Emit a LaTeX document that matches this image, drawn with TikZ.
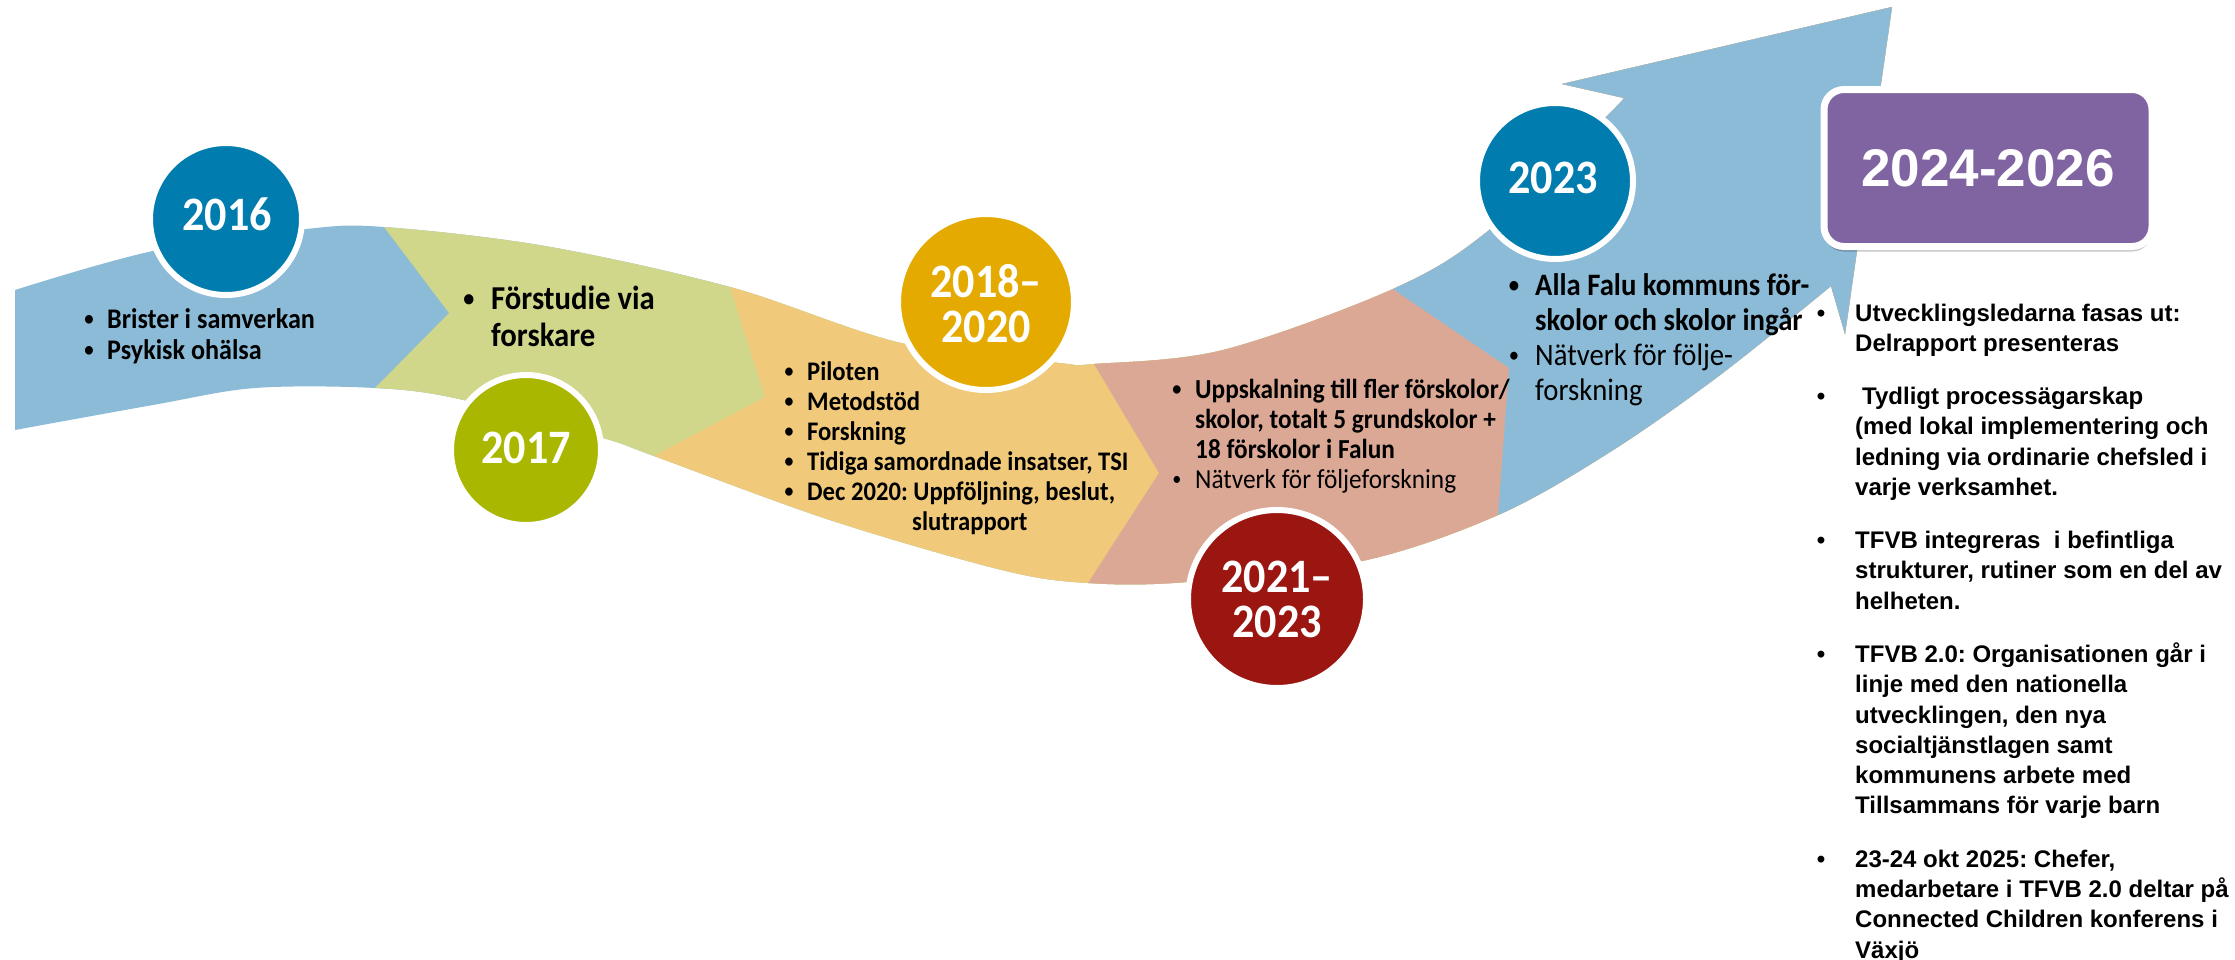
\documentclass[tikz,border=0pt]{standalone}
\usepackage{fontspec}
\usepackage{graphicx}
\setmainfont{Carlito}
\newfontfamily\cf[FakeStretch=0.92]{Carlito}
\newfontfamily\af{Liberation Sans}
\usetikzlibrary{shadows}
\definecolor{bandblue}{RGB}{139,187,215}
\definecolor{circblue}{RGB}{0,125,174}
\definecolor{bandgreen}{RGB}{208,214,138}
\definecolor{circgreen}{RGB}{170,183,0}
\definecolor{bandorange}{RGB}{240,202,122}
\definecolor{circorange}{RGB}{229,170,0}
\definecolor{bandpink}{RGB}{219,168,150}
\definecolor{circred}{RGB}{155,22,17}
\definecolor{purp}{RGB}{128,100,162}
\newcommand\smbul{\raisebox{0.09em}{\scalebox{0.72}{•}}}
\newcommand\bandoutline{plot[smooth,tension=0.55] coordinates {(15,290) (153,251) (306,229) (384,227) (545,246) (730,287) (901,343) (1059,363) (1094,364) (1223,350) (1393,289) (1488,231) (1602,121) (1624,98)} -- (1562,84) -- (1892,7) -- (1845,334) -- (1831,286) -- plot[smooth,tension=0.55] coordinates {(1831,286) (1720,375) (1610,452) (1498,515) (1362,561) (1187,582) (1088,583) (1002,570) (830,520) (654,456) (603,438) (459,399) (375,388) (255,388) (153,405) (15,430)} -- cycle}
\tikzset{
  yearcirc/.style={circle, draw=white, line width=6pt, inner sep=0pt},
  yeartxt/.style={anchor=base, inner sep=0pt, text=white, font=\cf\bfseries\fontsize{48}{48}\selectfont},
  bul/.style={anchor=base, inner sep=0pt},
  ln/.style={anchor=base west, inner sep=0pt},
  sA/.style={font=\cf\bfseries\fontsize{28.4}{32}\selectfont},
  sB/.style={font=\cf\bfseries\fontsize{33.4}{36}\selectfont},
  sC/.style={font=\cf\bfseries\fontsize{26.8}{30}\selectfont},
  sD/.style={font=\cf\bfseries\fontsize{27.5}{30}\selectfont},
  sDr/.style={font=\cf\fontsize{27.5}{30}\selectfont},
  sE/.style={font=\cf\bfseries\fontsize{31.2}{35}\selectfont},
  sEr/.style={font=\cf\fontsize{31.2}{35}\selectfont},
  sR/.style={font=\af\bfseries\fontsize{24}{30}\selectfont},
}
\begin{document}
\frenchspacing
\begin{tikzpicture}[x=1pt,y=-1pt]
\useasboundingbox (0,0) rectangle (2235,959);
\fill[white] (0,0) rectangle (2235,959);
% band
\begin{scope}
\clip \bandoutline;
\fill[bandblue] (0,0) rectangle (2235,959);
\fill[bandgreen] (384,-20) -- (384,227) -- (449,313) -- (375,388) -- (375,980) -- (2300,980) -- (2300,-20) -- cycle;
\fill[bandorange] (730,-20) -- (730,287) -- (765,397) -- (654,456) -- (654,980) -- (2300,980) -- (2300,-20) -- cycle;
\fill[bandpink] (1094,-20) -- (1094,364) -- (1159,473) -- (1088,583) -- (1088,980) -- (2300,980) -- (2300,-20) -- cycle;
\fill[bandblue] (1393,-20) -- (1393,289) -- (1509,368) -- (1498,516) -- (1498,980) -- (2300,980) -- (2300,-20) -- cycle;
\end{scope}
% circles
\node[yearcirc, fill=circblue, minimum size=152pt] (c16) at (226,219) {};
\node[yearcirc, fill=circgreen, minimum size=150pt] (c17) at (526,450) {};
\node[yearcirc, fill=circorange, minimum size=176pt] (c18) at (986,302) {};
\node[yearcirc, fill=circred, minimum size=178pt] (c21) at (1277,599) {};
\node[yearcirc, fill=circblue, minimum size=156pt] (c23) at (1555,181) {};
\node[yeartxt] (t16) at (227,230) {2016};
\node[yeartxt] (t17) at (526,463) {2017};
\node[yeartxt] (t18a) at (986,297) {2018–};
\node[yeartxt] (t18b) at (986,342) {2020};
\node[yeartxt] (t21a) at (1277,592) {2021–};
\node[yeartxt] (t21b) at (1277,637) {2023};
\node[yeartxt] (t23) at (1553,193) {2023};
% section 1
\node[bul, sA] (b1a) at (89,328) {\smbul};
\node[ln, sA] (l1a) at (107,328) {Brister i samverkan};
\node[bul, sA] (b1b) at (89,359) {\smbul};
\node[ln, sA] (l1b) at (107,359) {Psykisk ohälsa};
% section 2
\node[bul, sB] (b2a) at (469,309) {\smbul};
\node[ln, sB] (l2a) at (491,309) {Förstudie via};
\node[ln, sB] (l2b) at (491,346) {forskare};
% section 3
\node[bul, sC] (b3a) at (789,380) {\smbul};
\node[ln, sC] (l3a) at (807,380) {Piloten};
\node[bul, sC] (b3b) at (789,410) {\smbul};
\node[ln, sC] (l3b) at (807,410) {Metodstöd};
\node[bul, sC] (b3c) at (789,440) {\smbul};
\node[ln, sC] (l3c) at (807,440) {Forskning};
\node[bul, sC] (b3d) at (789,470) {\smbul};
\node[ln, sC] (l3d) at (807,470) {Tidiga samordnade insatser, TSI};
\node[bul, sC] (b3e) at (789,500) {\smbul};
\node[ln, sC] (l3e) at (807,500) {Dec 2020: Uppföljning, beslut,};
\node[ln, sC] (l3f) at (912,530) {slutrapport};
% section 4
\node[bul, sD] (b4a) at (1177,398) {\smbul};
\node[ln, sD] (l4a) at (1195,398) {Uppskalning till fler förskolor/};
\node[ln, sD] (l4b) at (1195,428) {skolor, totalt 5 grundskolor +};
\node[ln, sD] (l4c) at (1195,458) {18 förskolor i Falun};
\node[bul, sDr] (b4d) at (1177,488) {\smbul};
\node[ln, sDr] (l4d) at (1195,488) {Nätverk för följeforskning};
% section 5
\node[bul, sE] (b5a) at (1514,295) {\smbul};
\node[ln, sE] (l5a) at (1535,295) {Alla Falu kommuns för-};
\node[ln, sE] (l5b) at (1535,330) {skolor och skolor ingår};
\node[bul, sEr] (b5c) at (1514,365) {\smbul};
\node[ln, sEr] (l5c) at (1535,365) {Nätverk för följe-};
\node[ln, sEr] (l5d) at (1535,400) {forskning};
% purple box
\node[draw=white, line width=7pt, fill=purp, rounded corners=20pt, minimum width=328pt, minimum height=157pt, inner sep=0pt,
  drop shadow={shadow xshift=0pt, shadow yshift=-5pt, fill=black, opacity=0.22},
  text=white, font=\af\bfseries\fontsize{53}{53}\selectfont] (box) at (1988,168) {2024-2026};
% right text
\node[bul, sR] (r1) at (1821,321) {•};
\node[ln, sR] (r1a) at (1855,321) {Utvecklingsledarna fasas ut:};
\node[ln, sR] (r1b) at (1855,351.3) {Delrapport presenteras};
\node[bul, sR] (r2) at (1821,404.5) {•};
\node[ln, sR] (r2a) at (1855,404.5) {\hspace*{7pt}Tydligt processägarskap};
\node[ln, sR] (r2b) at (1855,434.8) {(med lokal implementering och};
\node[ln, sR] (r2c) at (1855,465.1) {ledning via ordinarie chefsled i};
\node[ln, sR] (r2d) at (1855,495.4) {varje verksamhet.};
\node[bul, sR] (r3) at (1821,548.6) {•};
\node[ln, sR] (r3a) at (1855,548.6) {TFVB integreras\ \ i befintliga};
\node[ln, sR] (r3b) at (1855,578.9) {strukturer, rutiner som en del av};
\node[ln, sR] (r3c) at (1855,609.2) {helheten.};
\node[bul, sR] (r4) at (1821,662.4) {•};
\node[ln, sR] (r4a) at (1855,662.4) {TFVB 2.0: Organisationen går i};
\node[ln, sR] (r4b) at (1855,692.7) {linje med den nationella};
\node[ln, sR] (r4c) at (1855,723.0) {utvecklingen, den nya};
\node[ln, sR] (r4d) at (1855,753.3) {socialtjänstlagen samt};
\node[ln, sR] (r4e) at (1855,783.6) {kommunens arbete med};
\node[ln, sR] (r4f) at (1855,813.9) {Tillsammans för varje barn};
\node[bul, sR] (r5) at (1821,867.1) {•};
\node[ln, sR] (r5a) at (1855,867.1) {23-24 okt 2025: Chefer,};
\node[ln, sR] (r5b) at (1855,897.4) {medarbetare i TFVB 2.0 deltar på};
\node[ln, sR] (r5c) at (1855,927.7) {Connected Children konferens i};
\node[ln, sR] (r5d) at (1855,958.0) {Växjö};
\end{tikzpicture}
\end{document}
